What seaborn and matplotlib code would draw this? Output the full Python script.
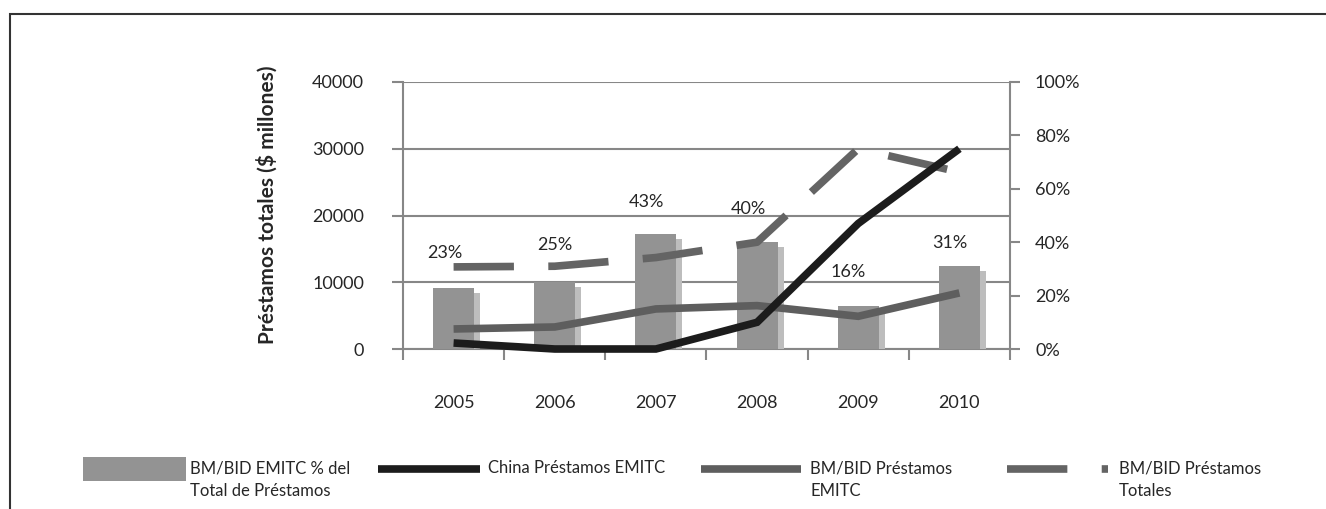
import numpy as np
import pandas as pd
import seaborn as sns
import matplotlib.pyplot as plt
from matplotlib.lines import Line2D
from matplotlib.patches import Rectangle
from matplotlib.transforms import ScaledTranslation

# data
years = ['2005', '2006', '2007', '2008', '2009', '2010']
share_pct = [23, 25, 43, 40, 16, 31]                     # BM/BID EMITC % del total (right axis)
china_emitc = [900, 0, 0, 4000, 18800, 30000]            # $ millones
bmbid_emitc = [3000, 3300, 6000, 6500, 4900, 8400]
bmbid_total = [12300, 12400, 13700, 16000, 30000, 26500]

legend_labels = ['BM/BID EMITC % del\nTotal de Préstamos', 'China Préstamos EMITC',
                 'BM/BID Préstamos\nEMITC', 'BM/BID Préstamos\nTotales']

# label nudges (points), only styling
label_dx = [-6, 0, -7, -6, -7, -7]
label_dy = [25, 27, 23, 24, 24.5, 16.5]

bar_col = '#939393'
shadow_col = '#bdbdbd'
black = '#1c1c1c'
gray_line = '#5e5e5e'
dash_col = '#646464'
grid_col = '#878787'
txt = '#262626'
dash_style = (0, (7.9, 4.5))

plt.rcParams['font.family'] = ['Lato', 'DejaVu Sans']

df = pd.DataFrame({'pos': np.arange(len(years)), 'share': share_pct,
                   'china': china_emitc, 'emitc': bmbid_emitc, 'total': bmbid_total})

W, H = 1326, 509
fig = plt.figure(figsize=(W / 100, H / 100), dpi=100)
fx = lambda x: x / W
fy = lambda y: 1 - y / H

ax = fig.add_axes([fx(403), fy(349), 607 / W, 267 / H])
ax.set_ylim(0, 40000)
ax.set_yticks(range(0, 40001, 10000))
ax.grid(axis='y', color=grid_col, lw=1.5)
ax.set_axisbelow(True)

# bars on the right (percent) axis, with a light "3D" shadow behind
ax2 = ax.twinx()
sns.barplot(data=df, x='pos', y='share', ax=ax2, color=shadow_col, width=0.405,
            saturation=1, errorbar=None)
shift = ScaledTranslation(6 / 100, -5 / 100, fig.dpi_scale_trans)
for p in ax2.patches:
    p.set_transform(ax2.transData + shift)
sns.barplot(data=df, x='pos', y='share', ax=ax2, color=bar_col, width=0.405,
            saturation=1, errorbar=None)
ax2.set_ylim(0, 100)
ax2.set_yticks(range(0, 101, 20))
ax2.set_yticklabels([f'{v}%' for v in range(0, 101, 20)])
ax2.set_ylabel('')
for i, v in enumerate(share_pct):
    ax2.annotate(f'{v}%', (i, v), xytext=(label_dx[i], label_dy[i]), textcoords='offset points',
                 ha='center', va='center', fontsize=13, color=txt)

# lines on the left ($ millones) axis, drawn on top
ax3 = ax.twinx()
sns.lineplot(data=df, x='pos', y='total', ax=ax3, color=dash_col, lw=5.5, linestyle=dash_style,
             dash_capstyle='butt', clip_on=False, legend=False)
sns.lineplot(data=df, x='pos', y='emitc', ax=ax3, color=gray_line, lw=5.5,
             solid_capstyle='butt', solid_joinstyle='miter', clip_on=False, legend=False)
sns.lineplot(data=df, x='pos', y='china', ax=ax3, color=black, lw=5.5,
             solid_capstyle='butt', solid_joinstyle='miter', clip_on=False, legend=False)
ax3.set_ylim(0, 40000)
ax3.axis('off')

# spines / ticks
for s in ['top', 'right']:
    ax.spines[s].set_visible(False)
for s in ['top', 'left', 'bottom']:
    ax2.spines[s].set_visible(False)
for s in ['left', 'bottom']:
    ax.spines[s].set_color(grid_col)
    ax.spines[s].set_linewidth(1.5)
ax2.spines['right'].set_color(grid_col)
ax2.spines['right'].set_linewidth(1.5)

ax.set_xlim(-0.5, len(years) - 0.5)
ax.set_xticks(np.arange(-0.5, len(years)))
ax.set_xticklabels([])
ax.set_xticks(np.arange(len(years)), minor=True)
ax.set_xticklabels(years, minor=True)
ax.set_xlabel('')
ax.tick_params(axis='x', which='major', direction='out', length=8, width=1.5, color=grid_col)
ax.tick_params(axis='x', which='minor', length=0, pad=33, labelsize=13, labelcolor=txt)
ax.tick_params(axis='y', direction='out', length=8, width=1.5, color=grid_col, pad=20,
               labelsize=13, labelcolor=txt)
ax2.tick_params(axis='y', direction='out', length=7, width=1.5, color=grid_col, pad=11,
                labelsize=13, labelcolor=txt)

ax.set_ylabel('Préstamos totales ($ millones)', fontsize=15, fontweight='bold',
              color=txt, va='center')
ax.yaxis.set_label_coords((267 - 403) / 607, 0.539)

# legend, laid out as in the original
fig.add_artist(Rectangle((fx(83), fy(481)), 103 / W, 24 / H, transform=fig.transFigure,
                         color=bar_col, lw=0))
fig.add_artist(Line2D([fx(378), fx(480)], [fy(469)] * 2, transform=fig.transFigure,
                      color=black, lw=5.5, solid_capstyle='butt'))
fig.add_artist(Line2D([fx(701), fx(801)], [fy(469)] * 2, transform=fig.transFigure,
                      color=gray_line, lw=5.5, solid_capstyle='butt'))
fig.add_artist(Line2D([fx(1007), fx(1108)], [fy(469)] * 2, transform=fig.transFigure,
                      color=dash_col, lw=5.5, linestyle=dash_style, dash_capstyle='butt'))
for x, lab in zip([190, 488, 810, 1119], legend_labels):
    fig.text(fx(x), fy(460), lab, ha='left', va='top', fontsize=12, color=txt,
             linespacing=1.5)

# outer frame
fig.add_artist(Rectangle((fx(10), fy(H + 20)), (W + 20) / W, (H + 20 - 14) / H,
                         transform=fig.transFigure, fill=False, ec='#333333', lw=1.5))

fig.savefig('out.png', dpi=100)
